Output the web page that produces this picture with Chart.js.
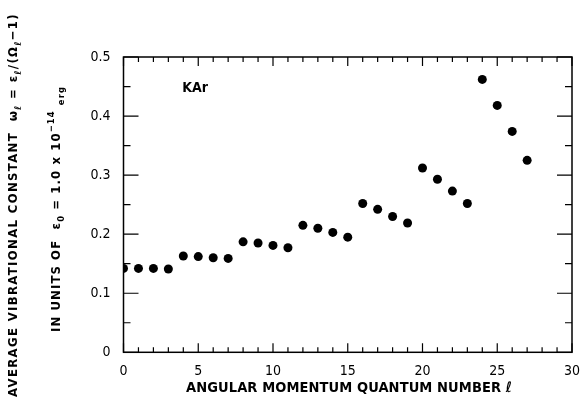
<!DOCTYPE html>
<html>
<head>
<meta charset="utf-8">
<script src="https://cdn.jsdelivr.net/npm/chart.js@4"></script>
<style>
  html, body { margin: 0; padding: 0; background: #fff; }
  #wrap { width: 584px; height: 403px; }
</style>
</head>
<body>
<div id="wrap"><canvas id="chart" width="584" height="403"></canvas></div>
<script>
// Data
const lValues = [0, 1, 2, 3, 4, 5, 6, 7, 8, 9, 10, 11, 12, 13, 14, 15, 16, 17, 18, 19, 20, 21, 22, 23, 24, 25, 26, 27];
const omega = [0.142, 0.142, 0.142, 0.141, 0.163, 0.162, 0.160, 0.159, 0.187, 0.185, 0.181, 0.177,
  0.215, 0.210, 0.203, 0.195, 0.252, 0.242, 0.230, 0.219, 0.312, 0.293, 0.273, 0.252,
  0.462, 0.418, 0.374, 0.325];
const xTicks = [0, 5, 10, 15, 20, 25, 30];
const yTicks = [0, 0.1, 0.2, 0.3, 0.4, 0.5];
const speciesLabel = "KAr";
const xTitle = "ANGULAR MOMENTUM QUANTUM NUMBER ℓ";

const FONT = '"DejaVu Sans Condensed", "DejaVu Sans", sans-serif';

// text with sub/superscripts, stretched by letter spacing to a given width
function segWidth(ctx, segs, size, spacing) {
  let w = 0, n = 0;
  for (const s of segs) {
    const sz = s.k ? size * 0.72 : size;
    ctx.font = "bold " + sz + "px " + FONT;
    ctx.letterSpacing = spacing + "px";
    w += ctx.measureText(s.t).width;
    n += [...s.t].length;
  }
  return { w, n };
}
function drawRich(ctx, segs, cx, cy, size, target) {
  const nat = segWidth(ctx, segs, size, 0);
  const spacing = Math.max(0, (target - nat.w) / nat.n);
  const w = segWidth(ctx, segs, size, spacing).w;
  let x = cx - w / 2;
  ctx.textBaseline = "middle";
  ctx.textAlign = "left";
  for (const s of segs) {
    const sz = s.k ? size * 0.72 : size;
    ctx.font = "bold " + sz + "px " + FONT;
    ctx.letterSpacing = spacing + "px";
    let dy = 0;
    if (s.k === "sub") dy = size * 0.35;
    if (s.k === "sup") dy = -size * 0.38;
    ctx.fillText(s.t, x, cy + dy);
    x += ctx.measureText(s.t).width;
  }
  ctx.letterSpacing = "0px";
}

const frame = {
  id: "frame",
  afterDraw(chart) {
    const { ctx, chartArea: a, scales } = chart;
    const xs = scales.x, ys = scales.y;
    ctx.save();
    ctx.strokeStyle = "#000";
    ctx.lineWidth = 1.5;
    ctx.strokeRect(a.left, a.top, a.right - a.left, a.bottom - a.top);
    ctx.lineWidth = 1.2;
    ctx.beginPath();
    for (let v = 0; v <= 30; v++) {
      const px = xs.getPixelForValue(v);
      const len = v % 5 === 0 ? 9 : 5;
      ctx.moveTo(px, a.bottom); ctx.lineTo(px, a.bottom - len);
      ctx.moveTo(px, a.top); ctx.lineTo(px, a.top + len);
    }
    for (let i = 0; i <= 10; i++) {
      const py = ys.getPixelForValue(i * 0.05);
      const len = i % 2 === 0 ? 15 : 7;
      ctx.moveTo(a.left, py); ctx.lineTo(a.left + len, py);
      ctx.moveTo(a.right, py); ctx.lineTo(a.right - len, py);
    }
    ctx.stroke();

    ctx.fillStyle = "#000";
    drawRich(ctx, [{ t: speciesLabel }], 195, 88, 14, 24);
    drawRich(ctx, [{ t: xTitle }], 349, 388, 14.5, 326);
    // y titles, rotated
    ctx.save();
    ctx.translate(14, 205);
    ctx.rotate(-Math.PI / 2);
    drawRich(ctx, [
      { t: "AVERAGE VIBRATIONAL CONSTANT  ω" }, { t: "ℓ", k: "sub" },
      { t: " = ε" }, { t: "ℓ", k: "sub" }, { t: "/(Ω" }, { t: "ℓ", k: "sub" }, { t: "−1)" }
    ], 0, 0, 13, 384);
    ctx.restore();
    ctx.save();
    ctx.translate(57, 209);
    ctx.rotate(-Math.PI / 2);
    drawRich(ctx, [
      { t: "IN UNITS OF  ε" }, { t: "0", k: "sub" }, { t: " = 1.0 x 10" }, { t: "−14", k: "sup" },
      { t: " " }, { t: "erg", k: "sub" }
    ], 0, 0, 13, 246);
    ctx.restore();
    ctx.restore();
  }
};

new Chart(document.getElementById("chart"), {
  type: "scatter",
  data: {
    datasets: [{
      data: lValues.map((l, i) => ({ x: l, y: omega[i] })),
      pointRadius: 4.5,
      pointHoverRadius: 4.5,
      backgroundColor: "#000",
      borderWidth: 0,
    }],
  },
  options: {
    responsive: false,
    animation: false,
    events: [],
    layout: { padding: { left: 0, top: 57, right: 0, bottom: 0 } },
    plugins: { legend: { display: false }, tooltip: { enabled: false } },
    scales: {
      x: {
        type: "linear", min: 0, max: 30,
        afterBuildTicks: (s) => { s.ticks = xTicks.map((v) => ({ value: v })); },
        afterFit: (s) => { s.height = 50.7; s.paddingRight = 12; },
        grid: { display: false, drawTicks: false },
        border: { display: false },
        ticks: { color: "#000", padding: 11, font: { family: FONT, size: 14 } },
      },
      y: {
        type: "linear", min: 0, max: 0.5,
        afterBuildTicks: (s) => { s.ticks = yTicks.map((v) => ({ value: v })); },
        afterFit: (s) => { s.width = 123.5; },
        grid: { display: false, drawTicks: false },
        border: { display: false },
        ticks: { color: "#000", padding: 13, font: { family: FONT, size: 14 } },
      },
    },
  },
  plugins: [frame],
});
</script>
</body>
</html>
